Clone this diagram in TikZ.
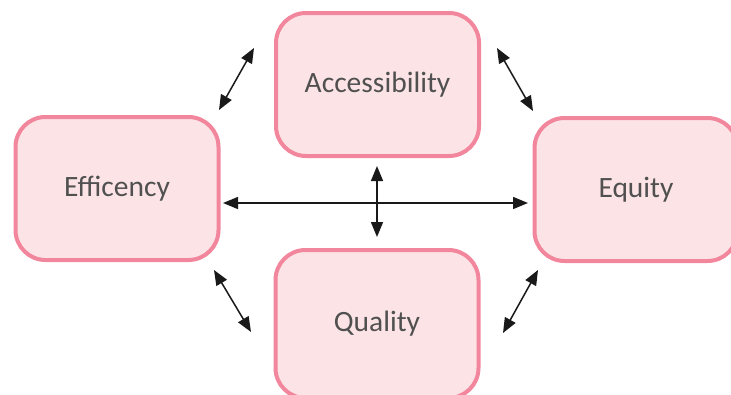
\documentclass[tikz,border=0pt]{standalone}
\usepackage{fontspec}
\setmainfont{Carlito}
\usetikzlibrary{arrows.meta}
\definecolor{pinkline}{HTML}{F2869C}
\definecolor{pinkfill}{HTML}{FCE4E6}
\definecolor{txtgray}{HTML}{505050}
\tikzset{
  box/.style={draw=pinkline, fill=pinkfill, line width=4pt, rounded corners=30pt,
    minimum width=203pt, minimum height=143pt, inner sep=0pt,
    font=\fontsize{29.5}{32}\selectfont, text=txtgray},
  link/.style={line width=1.5pt, draw=black!90, {Triangle[length=15pt,width=12pt]}-{Triangle[length=15pt,width=12pt]}}
}
\begin{document}
\begin{tikzpicture}[x=1pt,y=-1pt]
\useasboundingbox (0,0) rectangle (731,394);
\node[box] (acc) at (377.5,84.5) {Accessibility};
\node[box] (eff) at (117,188.5) {Efficency};
\node[box] (equ) at (636,189.5) {Equity};
\node[box, minimum height=148pt] (qua) at (377,324) {Quality};
\coordinate (ulA) at (219,110);
\coordinate (ulB) at (254,48);
\coordinate (urA) at (497,48);
\coordinate (urB) at (533,111);
\coordinate (llA) at (214,270);
\coordinate (llB) at (251,332);
\coordinate (lrA) at (538,270);
\coordinate (lrB) at (503,333);
\coordinate (hA) at (223,203);
\coordinate (hB) at (528,203);
\coordinate (vA) at (377,166);
\coordinate (vB) at (377,237);
\draw[link] (ulA) -- (ulB);
\draw[link] (urA) -- (urB);
\draw[link] (llA) -- (llB);
\draw[link] (lrA) -- (lrB);
\draw[link] (hA) -- (hB);
\draw[link] (vA) -- (vB);
\end{tikzpicture}
\end{document}
